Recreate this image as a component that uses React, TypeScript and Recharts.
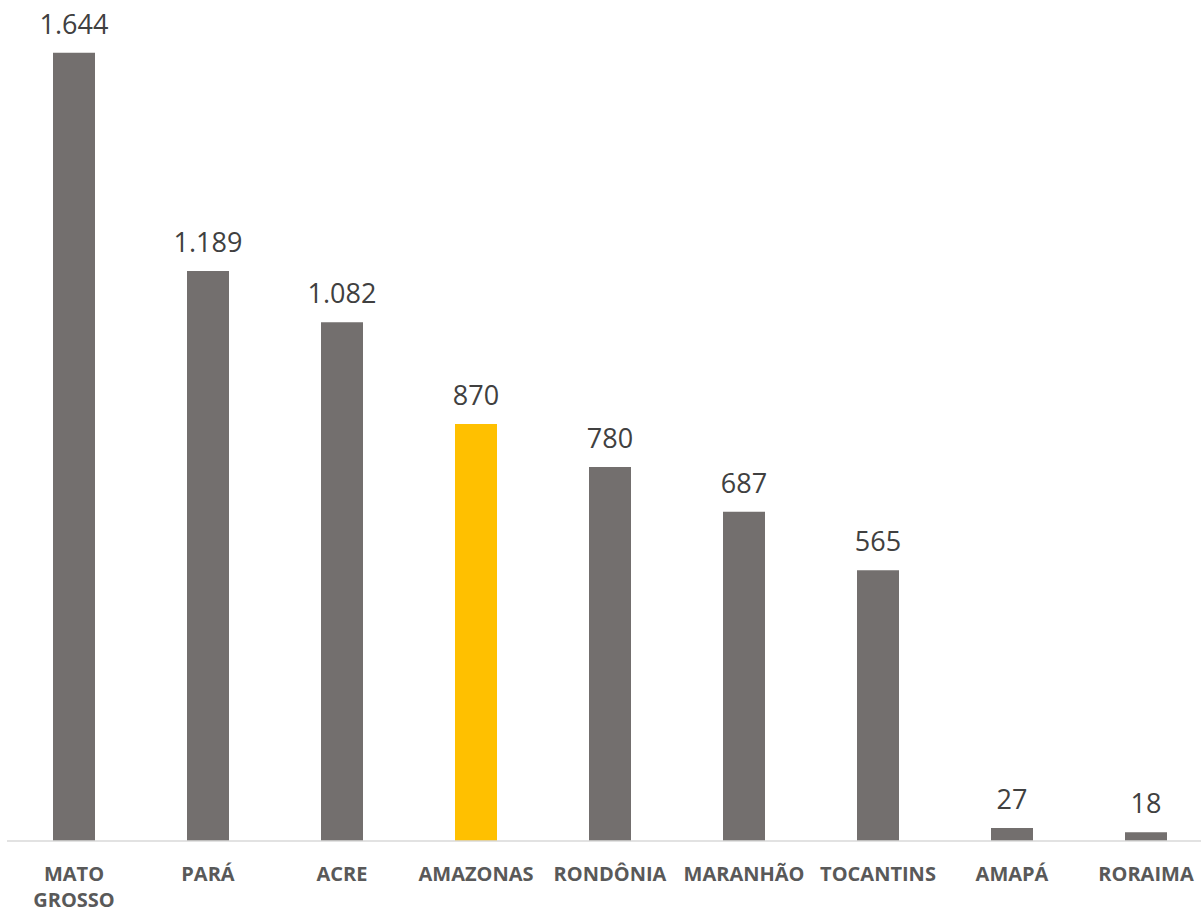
import { Bar, BarChart, Cell, LabelList, XAxis, YAxis } from "recharts";

const states = [
  "MATO GROSSO",
  "PARÁ",
  "ACRE",
  "AMAZONAS",
  "RONDÔNIA",
  "MARANHÃO",
  "TOCANTINS",
  "AMAPÁ",
  "RORAIMA",
];
const values = [1644, 1189, 1082, 870, 780, 687, 565, 27, 18];
const highlight = "AMAZONAS";

const data = states.map((state, i) => ({ state, value: values[i] }));

const formatNumber = (v: number) => String(v).replace(/\B(?=(\d{3})+(?!\d))/g, ".");

function StateTick({ x, y, payload }: any) {
  const label: string = payload.value;
  const lines = label === "MATO GROSSO" ? ["MATO", "GROSSO"] : [label];
  return (
    <text
      x={x}
      y={y}
      textAnchor="middle"
      fill="#595959"
      fontFamily="'Open Sans', sans-serif"
      fontWeight={700}
      fontSize={20}
    >
      {lines.map((line, i) => (
        <tspan key={line} x={x} dy={i === 0 ? 32 : 26}>
          {line}
        </tspan>
      ))}
    </text>
  );
}

export default function App() {
  return (
    <div style={{ position: "absolute", left: 0, top: 0, width: 1201, height: 911, overflow: "hidden", background: "#fff" }}>
      <BarChart
        width={1213}
        height={911}
        data={data}
        margin={{ top: 26, right: 0, bottom: 0, left: 7 }}
        barCategoryGap={0}
      >
        <XAxis
          dataKey="state"
          interval={0}
          height={70}
          tickLine={false}
          axisLine={{ stroke: "#d9d9d9", strokeWidth: 1.5 }}
          tick={<StateTick />}
        />
        <YAxis hide domain={[0, 1700]} />
        <Bar dataKey="value" barSize={42} fill="#736F6E" isAnimationActive={false}>
          {data.map((d) => (
            <Cell key={d.state} fill={d.state === highlight ? "#FFC000" : "#736F6E"} />
          ))}
          <LabelList
            dataKey="value"
            position="top"
            offset={19}
            formatter={(v: any) => formatNumber(Number(v))}
            fill="#404040"
            fontFamily="'Open Sans', sans-serif"
            fontSize={27}
          />
        </Bar>
      </BarChart>
    </div>
  );
}
